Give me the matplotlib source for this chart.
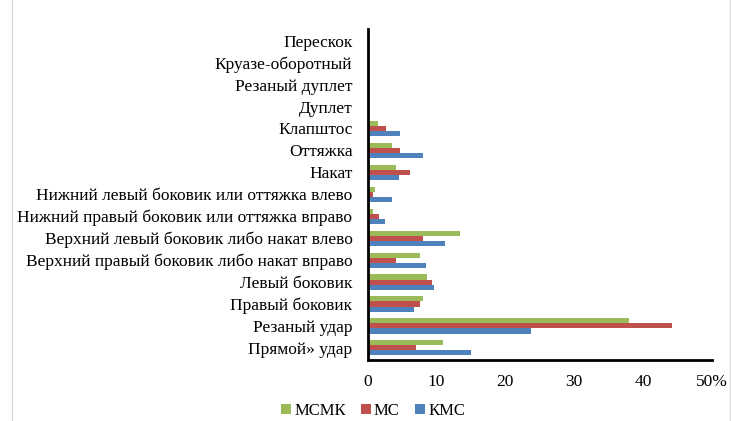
import matplotlib.pyplot as plt
import matplotlib.patches as mpatches
import numpy as np

plt.rcParams['font.family'] = ['Liberation Serif', 'DejaVu Serif']

# categories listed bottom to top
categories = [
    'Прямой» удар',
    'Резаный удар',
    'Правый боковик',
    'Левый боковик',
    'Верхний правый боковик либо накат вправо',
    'Верхний левый боковик либо накат влево',
    'Нижний правый боковик или оттяжка вправо',
    'Нижний левый боковик или оттяжка влево',
    'Накат',
    'Оттяжка',
    'Клапштос',
    'Дуплет',
    'Резаный дуплет',
    'Круазе-оборотный',
    'Перескок',
]

msmk = [10.9, 37.9, 8.0, 8.6, 7.6, 13.4, 0.7, 1.1, 4.1, 3.5, 1.5, 0.0, 0.0, 0.0, 0.0]
ms = [7.0, 44.2, 7.6, 9.3, 4.1, 8.0, 1.7, 0.7, 6.1, 4.7, 2.7, 0.0, 0.0, 0.0, 0.0]
kms = [15.0, 23.7, 6.7, 9.6, 8.4, 11.2, 2.5, 3.5, 4.5, 8.0, 4.7, 0.2, 0.0, 0.0, 0.0]

xticks = [0, 10, 20, 30, 40, 50]
xtick_labels = ['0', '10', '20', '30', '40', '50%']

fig = plt.figure(figsize=(7.31, 4.21), dpi=100)
ax = fig.add_axes([0.503, 0.145, 0.471, 0.787])

y = np.arange(len(categories))
h = 0.23
ax.barh(y + h, msmk, height=h, color='#9BBB59', label='МСМК')
ax.barh(y, ms, height=h, color='#C0504D', label='МС')
ax.barh(y - h, kms, height=h, color='#4F81BD', label='КМС')

ax.set_xlim(0, 50)
ax.set_ylim(-0.55, len(categories) - 0.45)
ax.set_yticks(y)
ax.set_yticklabels(categories, fontsize=12.5)
ax.set_xticks(xticks)
ax.set_xticklabels(xtick_labels, fontsize=12.5)
ax.tick_params(axis='both', length=0)
ax.tick_params(axis='x', pad=10)
ax.tick_params(axis='y', pad=11)

for s in ['top', 'right']:
    ax.spines[s].set_visible(False)
for s in ['left', 'bottom']:
    ax.spines[s].set_linewidth(2)
    ax.spines[s].set_color('black')

ax.legend(loc='center', bbox_to_anchor=(0.51, 0.024), bbox_transform=fig.transFigure,
          ncol=3, frameon=False, fontsize=12, handlelength=0.6, handleheight=0.6,
          handletextpad=0.2, columnspacing=0.9)

fig.patches.append(mpatches.Rectangle((0.016, -0.01), 0.982, 1.02, transform=fig.transFigure,
                                      fill=False, edgecolor='#d9d9d9', linewidth=1))

fig.savefig('out.png', dpi=100)
